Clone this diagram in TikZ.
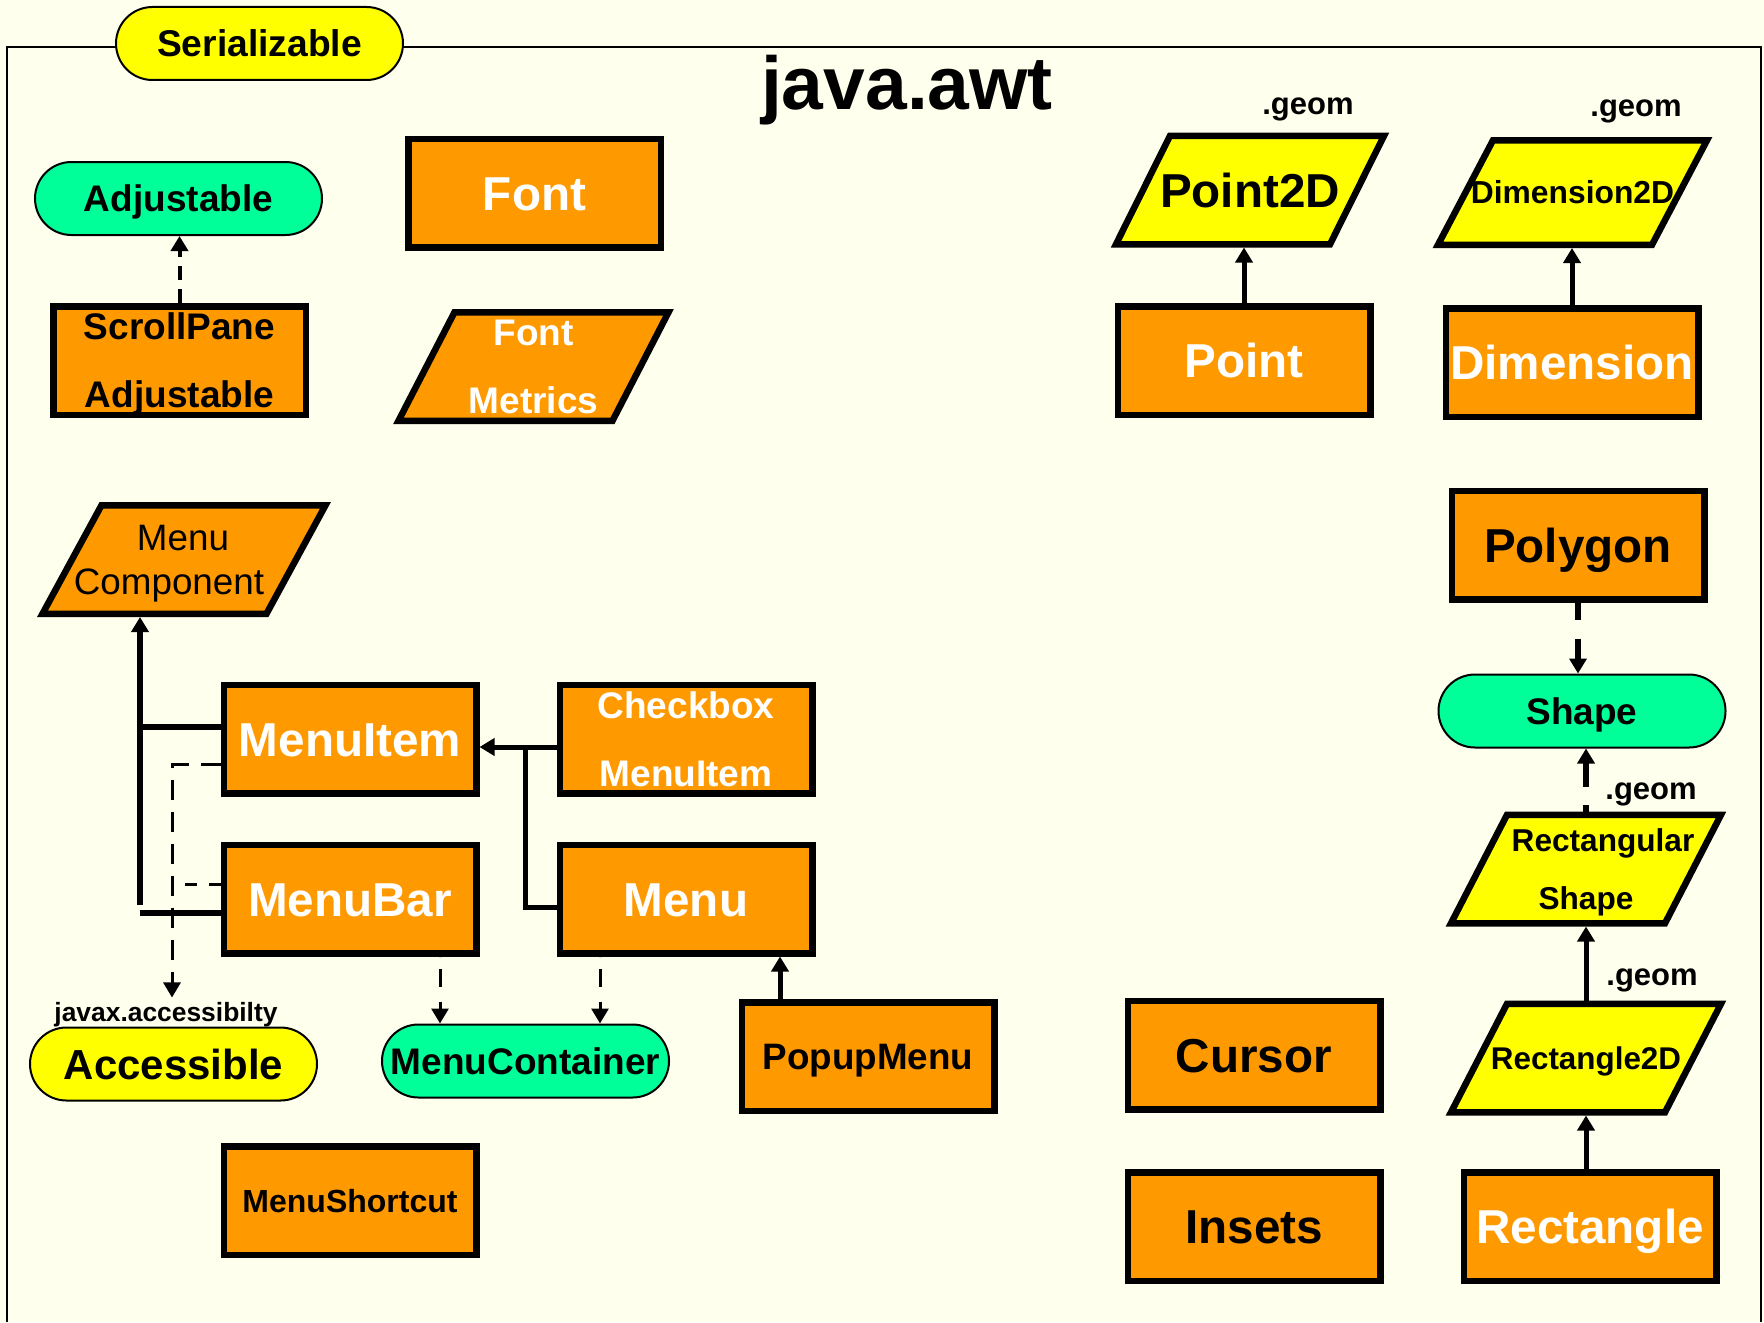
\documentclass[tikz,border=0pt]{standalone}
\usepackage{fontspec}
\setmainfont{Liberation Sans}
\usetikzlibrary{arrows.meta,calc}

\definecolor{paper}{HTML}{FFFFEE}
\definecolor{classorange}{HTML}{FF9900}
\definecolor{ifaceyellow}{HTML}{FFFF00}
\definecolor{ifacegreen}{HTML}{00FF99}

\tikzset{
  classbox/.style={draw=black, line width=3.25pt, fill=classorange,
    minimum width=126.25pt, minimum height=54.25pt, inner sep=0pt},
  iface/.style={draw=black, line width=1pt, rounded corners=18.25pt,
    minimum width=143.5pt, minimum height=36.5pt, inner sep=0pt},
  slantline/.style={draw=black, line width=3.25pt},
  slanttext/.style={draw=none, inner sep=0pt, outer sep=0pt,
    minimum width=100pt, minimum height=57.5pt},
  bigtxt/.style={font=\fontsize{23.8}{28}\selectfont\bfseries,
    text height=17pt, text depth=0pt},
  midone/.style={font=\fontsize{18.5}{22}\selectfont\bfseries,
    text height=13.25pt, text depth=0pt},
  midtwo/.style={font=\fontsize{18.5}{34}\selectfont\bfseries, align=center,
    text height=47.25pt, text depth=0pt},
  geomtxt/.style={font=\fontsize{15.5}{18}\selectfont\bfseries, inner sep=0pt,
    anchor=base},
  inherit/.style={line width=2.5pt, -{Triangle[length=7.5pt,width=8.5pt]}},
  realize/.style={line width=1.5pt, dash pattern=on 10pt off 6pt,
    -{Triangle[length=7.5pt,width=8.5pt]}},
  tap/.style={line width=3pt},
}

% parallelogram outline: fill, centre x, centre y, half edge, half height, half slant
\newcommand{\slantbox}[6]{%
  \filldraw[slantline, fill=#1]
    ({#2-#4-#6},{#3+#5}) -- ({#2+#4-#6},{#3+#5}) --
    ({#2+#4+#6},{#3-#5}) -- ({#2-#4+#6},{#3-#5}) -- cycle;}

\begin{document}
\begin{tikzpicture}[x=0.5pt,y=-0.5pt]
\useasboundingbox (0,0) rectangle (1764,1322);
\fill[paper] (0,0) rectangle (1764,1322);

% package frame
\draw[line width=1pt] (7,1322) -- (7,47) -- (1761,47) -- (1761,1322);
\node[font=\fontsize{37.5}{40}\selectfont\bfseries, anchor=base, inner sep=0pt]
  (title) at (907,110) {java.awt};

% interfaces
\node[iface, fill=ifaceyellow, font=\fontsize{18.6}{22}\selectfont\bfseries,
  text height=13.3pt, text depth=0pt] (serializable) at (259.5,43.5) {Serializable};
\node[iface, fill=ifacegreen, midone] (adjustable) at (178.5,198.5) {Adjustable};
\node[iface, fill=ifaceyellow, font=\fontsize{21}{24}\selectfont\bfseries,
  text height=15pt, text depth=0pt] (accessible) at (173.5,1064) {Accessible};
\node[font=\fontsize{13.2}{15}\selectfont\bfseries, anchor=base, inner sep=2pt]
  (acclabel) at (166,1021) {javax.accessibilty};
\node[iface, fill=ifacegreen, midone] (menucontainer) at (525.5,1061) {MenuContainer};
\node[iface, fill=ifacegreen, midone] (shape) at (1582,711) {Shape};

% classes: fonts and scrolling
\node[classbox, bigtxt, text=white] (font) at (534.5,193) {Font};
\node[classbox, midtwo] (scroll) at (179.5,360.5) {ScrollPane\\Adjustable};
\slantbox{classorange}{533.5}{366.5}{107}{54.25}{28}
\node[slanttext, midtwo, text=white] (fontmetrics) at (533.5,366.5) {Font\\Metrics};

% classes: menus
\slantbox{classorange}{184}{559.5}{112}{54.25}{29.5}
\node[slanttext] (menucomp) at (184,559.5) {};
\node[font=\fontsize{18.4}{22}\selectfont, align=center, inner sep=0pt,
  text height=35.2pt, text depth=0pt, xshift=-7.5pt] at (menucomp.center)
  {\hspace*{14pt}Menu\\Component};
\node[classbox, bigtxt, text=white] (menuitem) at (350,739) {MenuItem};
\node[classbox, midtwo, text=white] (checkbox) at (686,739) {Checkbox\\MenuItem};
\node[classbox, bigtxt, text=white] (menubar) at (350,899) {MenuBar};
\node[classbox, bigtxt, text=white] (menu) at (686,899) {Menu};
\node[classbox, font=\fontsize{18.4}{22}\selectfont\bfseries,
  text height=13.2pt, text depth=0pt] (popup) at (868,1056.5) {PopupMenu};
\node[classbox, font=\fontsize{16}{20}\selectfont\bfseries,
  text height=11.5pt, text depth=0pt] (shortcut) at (350,1200.5) {MenuShortcut};

% classes: geometry
\slantbox{ifaceyellow}{1250}{190}{107}{54.25}{27}
\node[slanttext, bigtxt] (point2d) at (1250,190) {Point2D};
\slantbox{ifaceyellow}{1572.5}{192.5}{107}{52.25}{27.5}
\node[slanttext, minimum height=55.5pt, font=\fontsize{15.9}{18}\selectfont\bfseries,
  text height=11.4pt, text depth=0pt] (dim2d) at (1572.5,192.5) {Dimension2D};
\node[geomtxt] (geomA) at (1308,114) {.geom};
\node[geomtxt] (geomB) at (1636,117) {.geom};
\node[classbox, bigtxt, text=white] (point) at (1244,360.5) {Point};
\node[classbox, bigtxt, text=white] (dimension) at (1572,362.5) {Dimension};
\node[classbox, bigtxt] (polygon) at (1578,545) {Polygon};
\slantbox{ifaceyellow}{1586}{869}{107}{54.25}{28}
\node[slanttext, font=\fontsize{15.8}{29}\selectfont\bfseries, align=center,
  text height=40.3pt, text depth=0pt] (rectshape) at (1586,869)
  {\hspace*{17pt}Rectangular\\Shape};
\node[geomtxt] (geomC) at (1651,799) {.geom};
\slantbox{ifaceyellow}{1586}{1058}{107}{54.25}{28}
\node[slanttext, font=\fontsize{15.7}{18}\selectfont\bfseries,
  text height=11.25pt, text depth=0pt] (rect2d) at (1586,1058) {Rectangle2D};
\node[geomtxt] (geomD) at (1652,985) {.geom};
\node[classbox, bigtxt] (cursor) at (1254,1055) {Cursor};
\node[classbox, bigtxt] (insets) at (1254,1226.5) {Insets};
\node[classbox, bigtxt, text=white] (rectangle) at (1590,1226.5) {Rectangle};

% connectors: top left
\draw[realize, line width=2pt, dash pattern=on 7pt off 4.5pt]
  (scroll.north) -- (scroll.north |- adjustable.south);

% connectors: geometry
\draw[inherit] (point.north) -- (point.north |- point2d.south);
\draw[inherit] (dimension.north) -- (dimension.north |- dim2d.south);
\draw[inherit, line width=3.4pt, dash pattern=on 8.5pt off 9.5pt on 30pt]
  (polygon.south) -- (polygon.south |- shape.north);
\draw[inherit, line width=3pt, dash pattern=on 3.5pt off 9pt on 30pt]
  (rectshape.north) -- (rectshape.north |- shape.south);
\draw[inherit] (rect2d.north) -- (rect2d.north |- rectshape.south);
\draw[inherit] (rectangle.north -| rect2d.south) -- (rect2d.south);

% connectors: menus
\coordinate (trunk) at (140,905);
\draw[inherit, line width=3pt] (trunk) -- (trunk |- menucomp.south);
\coordinate (miTap) at ($(menuitem.west)+(0,-12)$);
\coordinate (mbTap) at ($(menubar.west)+(0,14)$);
\draw[tap] (miTap) -- (miTap -| trunk);
\draw[tap] (mbTap) -- (mbTap -| trunk);

\draw[inherit] ($(checkbox.west)+(0,8)$) -- ($(menuitem.east)+(0,8)$);
\coordinate (ckJoin) at ($(checkbox.west)+(-31,8)$);
\draw[line width=2.5pt] ($(menu.west)+(0,8)$) -| (ckJoin);

\coordinate (popupTop) at ($(popup.north)+(-88,0)$);
\draw[inherit] (popupTop) -- (popupTop |- menu.south);

\coordinate (mbDrop) at ($(menubar.south)+(90,0)$);
\coordinate (mDrop) at ($(menu.south)+(-86,0)$);
\draw[realize, dash pattern=on 9pt off 7.5pt on 20pt off 6pt, dash phase=36.5pt]
  (mbDrop) -- (mbDrop |- menucontainer.north);
\draw[realize, dash pattern=on 9pt off 7.5pt on 20pt off 6pt, dash phase=36.5pt]
  (mDrop) -- (mDrop |- menucontainer.north);

\coordinate (miDash) at ($(menuitem.west)+(0,25)$);
\coordinate (mbDash) at ($(menubar.west)+(0,-15)$);
\coordinate (bus) at (172,764);
\draw[realize] (miDash) -- (bus) -- (bus |- acclabel.north);
\draw[line width=1.5pt, dash pattern=on 6pt off 6pt] (mbDash) -- (mbDash -| bus);
\end{tikzpicture}
\end{document}
